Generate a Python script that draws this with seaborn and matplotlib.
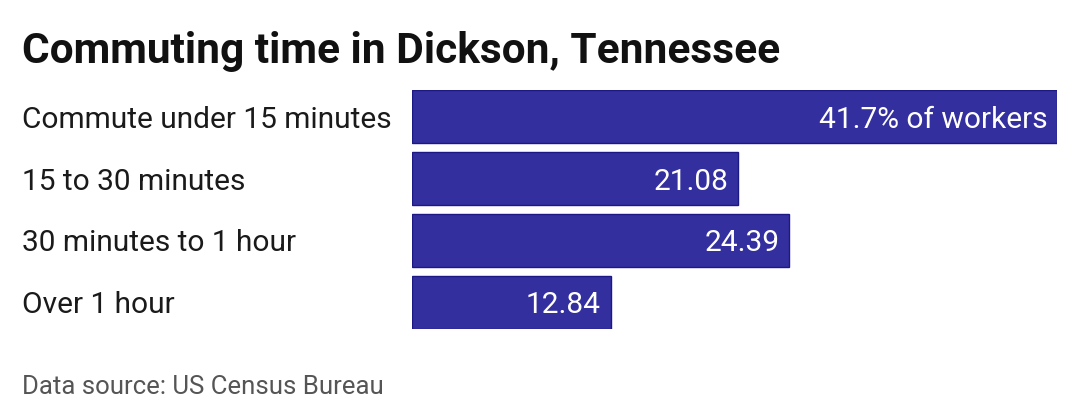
import pandas as pd
import seaborn as sns
import matplotlib.pyplot as plt
from matplotlib.transforms import blended_transform_factory

categories = ["Commute under 15 minutes", "15 to 30 minutes", "30 minutes to 1 hour", "Over 1 hour"]
shares = [41.7, 21.08, 24.39, 12.84]
value_labels = ["41.7% of workers", "21.08", "24.39", "12.84"]

df = pd.DataFrame({"category": categories, "share": shares})

sns.set_style("white")
plt.rcParams["font.family"] = ["Roboto", "DejaVu Sans"]

fig = plt.figure(figsize=(10.8, 4.2), dpi=100)
ax = fig.add_axes([412 / 1080, 1 - 329 / 420, (1057 - 412) / 1080, (329 - 90) / 420])

sns.barplot(data=df, x="share", y="category", orient="h", color="#332f9f",
            saturation=1, width=0.855, edgecolor="#1c1985", linewidth=1, ax=ax)

ax.set_xlim(0, max(shares))
ax.set_ylim(3.4275, -0.4275)
ax.set_xlabel("")
ax.set_ylabel("")
ax.set_xticks([])
ax.set_yticks([])
sns.despine(ax=ax, left=True, bottom=True)

# category labels, left-aligned at the figure margin
trans = blended_transform_factory(fig.transFigure, ax.transData)
for i, cat in enumerate(categories):
    ax.text(22 / 1080, i, cat, transform=trans, ha="left", va="center_baseline",
            fontsize=21.5, color="#1a1a1a")

for i, (v, txt) in enumerate(zip(shares, value_labels)):
    ax.annotate(txt, xy=(v, i), xytext=(-7, 0), textcoords="offset points",
                ha="right", va="center_baseline", color="white", fontsize=21.5)

fig.text(22 / 1080, 1 - 47 / 420, "Commuting time in Dickson, Tennessee",
         fontsize=30.5, fontweight="bold", color="#111111", va="center_baseline", ha="left")
fig.text(22 / 1080, 1 - 385 / 420, "Data source: US Census Bureau",
         fontsize=18.5, color="#555555", va="center_baseline", ha="left")

fig.savefig("out.png", dpi=100, facecolor="white")
